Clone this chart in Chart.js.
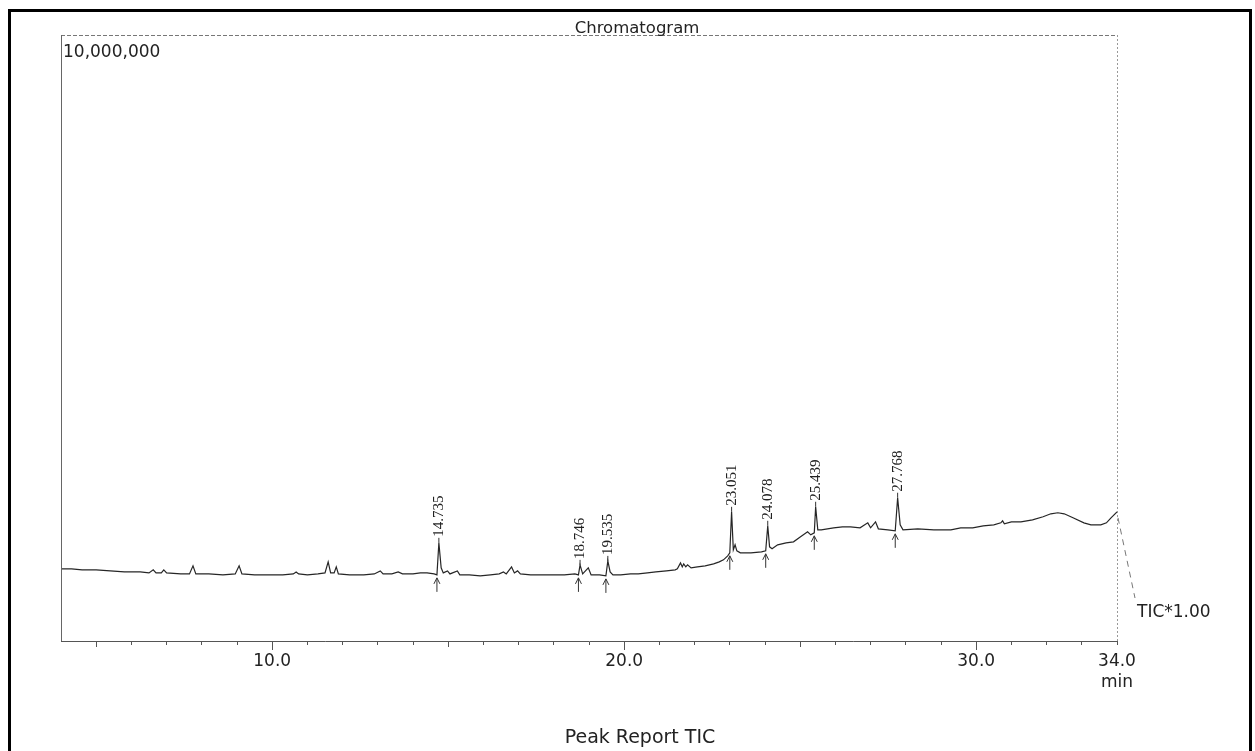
<!DOCTYPE html>
<html>
<head>
<meta charset="utf-8">
<title>Chromatogram - Peak Report TIC</title>
<script src="https://cdn.jsdelivr.net/npm/chart.js@4.4.0/dist/chart.umd.min.js"></script>
<style>
  html, body { margin: 0; padding: 0; background: #fff; overflow: hidden; }
  #wrap { position: relative; width: 1255px; height: 751px; }
  #frame { position: absolute; left: 8px; top: 9px; width: 1238px; height: 800px; border: 3px solid #000; pointer-events: none; }
</style>
</head>
<body>
<div id="wrap">
  <canvas id="chromChart" width="1255" height="751"></canvas>
  <div id="frame"></div>
</div>
<script>
// retention time (min)
const retentionTimes = [
  4.00, 4.3, 4.6, 5.0, 5.4, 5.8, 6.25, 6.5, 6.62, 6.7, 6.85, 6.92, 7.0, 7.4, 7.65, 7.75, 7.83,
  8.2, 8.6, 8.95, 9.06, 9.14, 9.5, 9.9, 10.3, 10.6, 10.68, 10.75, 11.0, 11.3, 11.5, 11.59,
  11.66, 11.76, 11.82, 11.88, 12.2, 12.6, 12.9, 13.07, 13.15, 13.4, 13.58, 13.7, 14.0, 14.21,
  14.4, 14.6, 14.68, 14.735, 14.80, 14.86, 14.98, 15.05, 15.26, 15.33, 15.6, 15.91, 16.2,
  16.45, 16.57, 16.65, 16.80, 16.88, 16.97, 17.05, 17.34, 17.7, 17.99, 18.3, 18.6, 18.70,
  18.746, 18.82, 18.98, 19.06, 19.3, 19.48, 19.535, 19.60, 19.68, 19.9, 20.18, 20.4, 20.66,
  20.9, 21.2, 21.45, 21.51, 21.60, 21.65, 21.69, 21.75, 21.80, 21.9, 22.08, 22.3, 22.54,
  22.7, 22.82, 22.94, 23.0, 23.051, 23.10, 23.15, 23.2, 23.3, 23.6, 23.9, 24.02, 24.078,
  24.13, 24.2, 24.36, 24.6, 24.81, 25.01, 25.21, 25.3, 25.4, 25.439, 25.50, 25.6, 25.95,
  26.2, 26.43, 26.7, 26.92, 27.0, 27.14, 27.22, 27.49, 27.7, 27.768, 27.84, 27.92, 28.34,
  28.8, 29.28, 29.56, 29.9, 30.2, 30.5, 30.70, 30.75, 30.8, 31.0, 31.27, 31.6, 31.9, 32.12,
  32.32, 32.5, 32.75, 33.06, 33.26, 33.54, 33.7, 33.83, 34.0
];

// TIC intensity (counts)
const ticIntensity = [
  1190000, 1190000, 1174000, 1174000, 1157000, 1140000, 1140000, 1124000, 1174000, 1124000,
  1124000, 1174000, 1124000, 1107000, 1107000, 1240000, 1107000,
  1107000, 1091000, 1107000, 1240000, 1107000, 1091000, 1091000, 1091000, 1107000, 1140000,
  1107000, 1091000, 1107000, 1124000, 1306000,
  1124000, 1124000, 1223000, 1107000, 1091000, 1091000, 1107000, 1157000, 1107000, 1107000,
  1140000, 1107000, 1107000, 1124000,
  1124000, 1107000, 1091000, 1620000, 1207000, 1124000, 1157000, 1107000, 1157000, 1091000,
  1091000, 1074000, 1091000,
  1107000, 1140000, 1107000, 1223000, 1124000, 1157000, 1107000, 1091000, 1091000, 1091000,
  1091000, 1107000, 1091000,
  1256000, 1107000, 1207000, 1091000, 1091000, 1074000, 1322000, 1140000, 1091000, 1091000,
  1107000, 1107000, 1124000,
  1140000, 1157000, 1174000, 1190000, 1289000, 1223000, 1273000, 1223000, 1256000, 1207000,
  1223000, 1240000, 1273000,
  1306000, 1339000, 1405000, 1455000, 2132000, 1504000, 1587000, 1488000, 1455000, 1455000,
  1471000, 1488000, 1901000,
  1554000, 1521000, 1587000, 1620000, 1636000, 1719000, 1802000, 1752000, 1785000, 2215000,
  1835000, 1835000, 1868000,
  1884000, 1884000, 1868000, 1950000, 1868000, 1967000, 1851000, 1835000, 1818000, 2364000,
  1917000, 1835000, 1851000,
  1835000, 1835000, 1868000, 1868000, 1901000, 1917000, 1950000, 1983000, 1934000, 1967000,
  1967000, 2000000, 2050000, 2099000,
  2116000, 2099000, 2033000, 1950000, 1917000, 1917000, 1950000, 2033000, 2132000
];

// labelled peaks (retention time of apex)
const peakTimes = [14.735, 18.746, 19.535, 23.051, 24.078, 25.439, 27.768];

const minorTicks = [5, 6, 7, 8, 9, 10, 11, 12, 13, 14, 15, 16, 17, 18, 19, 20,
  21, 22, 23, 24, 25, 26, 27, 28, 29, 30, 31, 32, 33, 34];
const labelledTicks = [10, 20, 30, 34];
const timeUnit = 'min';
const xMin = 4.0;
const xMax = 34.0;
const yMax = 10000000;

const points = retentionTimes.map((t, i) => ({ x: t, y: ticIntensity[i] }));

// frame, extra tick marks, peak labels and the loose texts round the plot
const reportPlugin = {
  id: 'reportPlugin',
  afterDraw(chart) {
    const ctx = chart.ctx;
    const area = chart.chartArea;
    const xs = chart.scales.x;
    const ys = chart.scales.y;
    ctx.save();

    // plot frame
    ctx.strokeStyle = '#777';
    ctx.lineWidth = 1;
    ctx.setLineDash([4, 2]);
    ctx.beginPath();
    ctx.moveTo(area.left, area.top + 0.5);
    ctx.lineTo(area.right, area.top + 0.5);
    ctx.stroke();
    ctx.setLineDash([2, 2]);
    ctx.strokeStyle = '#999';
    ctx.beginPath();
    ctx.moveTo(area.right + 0.5, area.top);
    ctx.lineTo(area.right + 0.5, area.bottom);
    ctx.stroke();
    ctx.setLineDash([]);
    ctx.strokeStyle = '#666';
    ctx.beginPath();
    ctx.moveTo(area.left + 0.5, area.top);
    ctx.lineTo(area.left + 0.5, area.bottom);
    ctx.stroke();

    // longer tick marks every 5 / 10 min
    ctx.strokeStyle = '#555';
    minorTicks.forEach(v => {
      let len = 0;
      if (v % 10 === 0) len = 9;
      else if (v % 5 === 0) len = 6;
      if (!len) return;
      const px = Math.round(xs.getPixelForValue(v)) + 0.5;
      ctx.beginPath();
      ctx.moveTo(px, area.bottom);
      ctx.lineTo(px, area.bottom + len);
      ctx.stroke();
    });

    // y full scale
    ctx.fillStyle = '#222';
    ctx.font = '17px "DejaVu Sans"';
    ctx.textAlign = 'left';
    ctx.textBaseline = 'alphabetic';
    ctx.fillText(yMax.toLocaleString('en-US'), area.left + 2, area.top + 22);

    // title and footer
    ctx.textAlign = 'center';
    ctx.font = '16.5px "DejaVu Sans"';
    ctx.fillText('Chromatogram', 637, 33);
    ctx.font = '19px "DejaVu Sans"';
    ctx.fillText('Peak Report TIC', 640, 743);

    // TIC*1.00 marker
    const endY = ys.getPixelForValue(ticIntensity[ticIntensity.length - 1]);
    ctx.strokeStyle = '#777';
    ctx.setLineDash([6, 5]);
    ctx.beginPath();
    ctx.moveTo(area.right + 1, endY + 6);
    ctx.lineTo(area.right + 18, 598);
    ctx.stroke();
    ctx.setLineDash([]);
    ctx.font = '17px "DejaVu Sans"';
    ctx.textAlign = 'left';
    ctx.fillText('TIC*1.00', 1137, 617);

    // peak labels and start arrows
    ctx.strokeStyle = '#333';
    ctx.fillStyle = '#222';
    ctx.font = '15px "Liberation Serif"';
    peakTimes.forEach(pt => {
      const i = retentionTimes.indexOf(pt);
      const px = xs.getPixelForValue(pt);
      const py = ys.getPixelForValue(ticIntensity[i]);
      ctx.beginPath();
      ctx.moveTo(px, py);
      ctx.lineTo(px, py - 5);
      ctx.stroke();
      ctx.save();
      ctx.translate(px, py - 6);
      ctx.rotate(-Math.PI / 2);
      ctx.textAlign = 'left';
      ctx.textBaseline = 'middle';
      ctx.fillText(pt.toFixed(3), 0, 0);
      ctx.restore();

      const ax = xs.getPixelForValue(retentionTimes[i - 1]);
      const ay = ys.getPixelForValue(ticIntensity[i - 1]) + 3;
      ctx.beginPath();
      ctx.moveTo(ax, ay);
      ctx.lineTo(ax, ay + 14);
      ctx.moveTo(ax - 3, ay + 6);
      ctx.lineTo(ax, ay);
      ctx.lineTo(ax + 3, ay + 6);
      ctx.stroke();
    });

    ctx.restore();
  }
};

new Chart(document.getElementById('chromChart'), {
  type: 'line',
  data: {
    datasets: [{
      label: 'TIC',
      data: points,
      borderColor: '#262626',
      borderWidth: 1.2,
      pointRadius: 0,
      tension: 0,
      fill: false
    }]
  },
  options: {
    responsive: false,
    animation: false,
    layout: { padding: { left: 61, right: 138, top: 35, bottom: 0 } },
    plugins: {
      legend: { display: false },
      tooltip: { enabled: false },
      title: { display: false }
    },
    scales: {
      x: {
        type: 'linear',
        min: xMin,
        max: xMax,
        afterBuildTicks: (scale) => {
          scale.ticks = minorTicks.map(v => ({ value: v }));
        },
        afterFit: (scale) => {
          scale.height = 110;
        },
        grid: {
          display: true,
          drawOnChartArea: false,
          drawTicks: true,
          tickLength: 4,
          color: '#555'
        },
        border: { display: true, color: '#555', width: 1 },
        ticks: {
          autoSkip: false,
          maxRotation: 0,
          padding: 6,
          color: '#222',
          font: { family: 'DejaVu Sans', size: 17, lineHeight: 1.25 },
          callback: (value) => {
            if (!labelledTicks.includes(value)) return '';
            return value === xMax ? [value.toFixed(1), timeUnit] : value.toFixed(1);
          }
        }
      },
      y: {
        display: false,
        min: 0,
        max: yMax
      }
    }
  },
  plugins: [reportPlugin]
});
</script>
</body>
</html>
